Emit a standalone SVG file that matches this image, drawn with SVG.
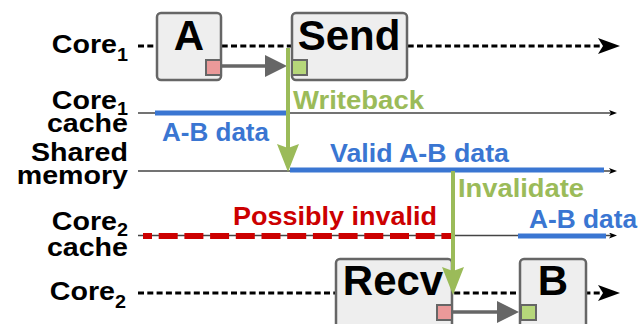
<svg xmlns="http://www.w3.org/2000/svg" width="640" height="324" viewBox="0 0 640 324">
<style>
.lbl{font-family:"Liberation Sans",Arial,sans-serif;font-weight:bold;font-size:26px;fill:#000;text-anchor:end}
.sub{font-size:18px}
.big{font-family:"Liberation Sans",Arial,sans-serif;font-weight:bold;font-size:42px;fill:#000;text-anchor:middle}
.mid{font-family:"Liberation Sans",Arial,sans-serif;font-weight:bold;font-size:26px}
.box{fill:#eeeeee;stroke:#666666;stroke-width:2.5}
.rsq{fill:#ea9999;stroke:#666666;stroke-width:2}
.gsq{fill:#b6d77a;stroke:#666666;stroke-width:2}
.core{stroke:#000;stroke-width:3;stroke-dasharray:6 3.3;fill:none}
.thin{stroke:#444;stroke-width:1.5;fill:none}
.blue{stroke:#3a76d2;stroke-width:5;fill:none}
.gray{stroke:#666666;stroke-width:3.5;fill:none}
.green{stroke:#9bbb59;stroke-width:4;fill:none}
</style>
<defs>
<marker id="m-dash" markerUnits="userSpaceOnUse" markerWidth="22" markerHeight="16" refX="10" refY="8" orient="auto" viewBox="0 0 22 16"><path d="M0,0 L22,8 L0,16 L5,8 Z" fill="#000"/></marker>
<marker id="m-thin" markerUnits="userSpaceOnUse" markerWidth="8" markerHeight="6" refX="4" refY="3" orient="auto" viewBox="0 0 8 6"><path d="M0,0 L8,3 L0,6 L2,3 Z" fill="#000"/></marker>
<marker id="m-gray" markerUnits="userSpaceOnUse" markerWidth="22" markerHeight="22" refX="4" refY="11" orient="auto" viewBox="0 0 22 22"><path d="M0,0 L22,11 L0,22 Z" fill="#666666"/></marker>
<marker id="m-green" markerUnits="userSpaceOnUse" markerWidth="28" markerHeight="22" refX="8" refY="11" orient="auto" viewBox="0 0 28 22"><path d="M0,0 L28,11 L0,22 L4,11 Z" fill="#9bbb59"/></marker>
</defs>

<g id="labels">
<text class="lbl" transform="translate(128,0) scale(1.1,1)" y="53">Core<tspan class="sub" dy="8">1</tspan></text>
<text class="lbl" transform="translate(128,0) scale(1.1,1)" y="109">Core<tspan class="sub" dy="6">1</tspan></text>
<text class="lbl" transform="translate(128,0) scale(1.1,1)" y="132">cache</text>
<text class="lbl" transform="translate(128,0) scale(1.1,1)" y="161">Shared</text>
<text class="lbl" transform="translate(128,0) scale(1.1,1)" y="184">memory</text>
<text class="lbl" transform="translate(128,0) scale(1.1,1)" y="230">Core<tspan class="sub" dy="6">2</tspan></text>
<text class="lbl" transform="translate(128,0) scale(1.1,1)" y="256">cache</text>
<text class="lbl" transform="translate(126,0) scale(1.1,1)" y="300">Core<tspan class="sub" dy="8">2</tspan></text>
</g>

<g id="timelines">
<line class="core" x1="138" y1="46" x2="608" y2="46" marker-end="url(#m-dash)"/>
<line class="thin" x1="138" y1="113" x2="613" y2="113" marker-end="url(#m-thin)"/>
<line class="thin" x1="138" y1="171" x2="613" y2="171" marker-end="url(#m-thin)"/>
<line class="thin" x1="138" y1="235.5" x2="613" y2="235.5" marker-end="url(#m-thin)"/>
<line class="core" x1="138" y1="293" x2="608" y2="293" marker-end="url(#m-dash)"/>
</g>

<g id="data">
<line class="blue" x1="155" y1="113" x2="287" y2="113"/>
<line class="blue" x1="290" y1="170" x2="604" y2="170"/>
<line class="blue" x1="518" y1="236" x2="606" y2="236"/>
<line x1="143" y1="236" x2="452" y2="236" stroke="#cc0000" stroke-width="6" stroke-dasharray="19 6.7" stroke-dashoffset="10"/>
</g>

<g id="node-A">
<rect class="box" x="157" y="13" width="64" height="67" rx="4"/>
<text class="big" x="189" y="50">A</text>
<rect class="rsq" x="206" y="60" width="15" height="15"/>
</g>
<g id="node-Send">
<rect class="box" x="292" y="13" width="115" height="67" rx="4"/>
<text class="big" x="349" y="50">Send</text>
<rect class="gsq" x="292" y="60" width="15" height="15"/>
</g>
<g id="node-Recv">
<rect class="box" x="336" y="259" width="116" height="72" rx="4"/>
<text class="big" x="393" y="295">Recv</text>
<rect class="rsq" x="437" y="305" width="15" height="15"/>
</g>
<g id="node-B">
<rect class="box" x="520" y="259" width="66" height="72" rx="4"/>
<text class="big" x="553" y="295">B</text>
<rect class="gsq" x="521" y="305" width="15" height="15"/>
</g>

<g id="connectors">
<line class="gray" x1="222" y1="66" x2="269" y2="66" marker-end="url(#m-gray)"/>
<line class="gray" x1="453" y1="312" x2="501" y2="312" marker-end="url(#m-gray)"/>
<line class="green" x1="288" y1="48" x2="288" y2="152" marker-end="url(#m-green)"/>
<line class="green" x1="453" y1="171" x2="453" y2="275" marker-end="url(#m-green)"/>
</g>

<g id="annotations">
<text class="mid" x="293" y="109" fill="#9bbb59" textLength="131" lengthAdjust="spacingAndGlyphs">Writeback</text>
<text class="mid" x="162" y="141" fill="#3a76d2" textLength="107" lengthAdjust="spacingAndGlyphs">A-B data</text>
<text class="mid" x="330" y="162" fill="#3a76d2" textLength="179" lengthAdjust="spacingAndGlyphs">Valid A-B data</text>
<text class="mid" x="458" y="197" fill="#9bbb59" textLength="126" lengthAdjust="spacingAndGlyphs">Invalidate</text>
<text class="mid" x="233" y="225" fill="#cc0000" textLength="204" lengthAdjust="spacingAndGlyphs">Possibly invalid</text>
<text class="mid" x="529" y="228" fill="#3a76d2" textLength="108" lengthAdjust="spacingAndGlyphs">A-B data</text>
</g>
</svg>
